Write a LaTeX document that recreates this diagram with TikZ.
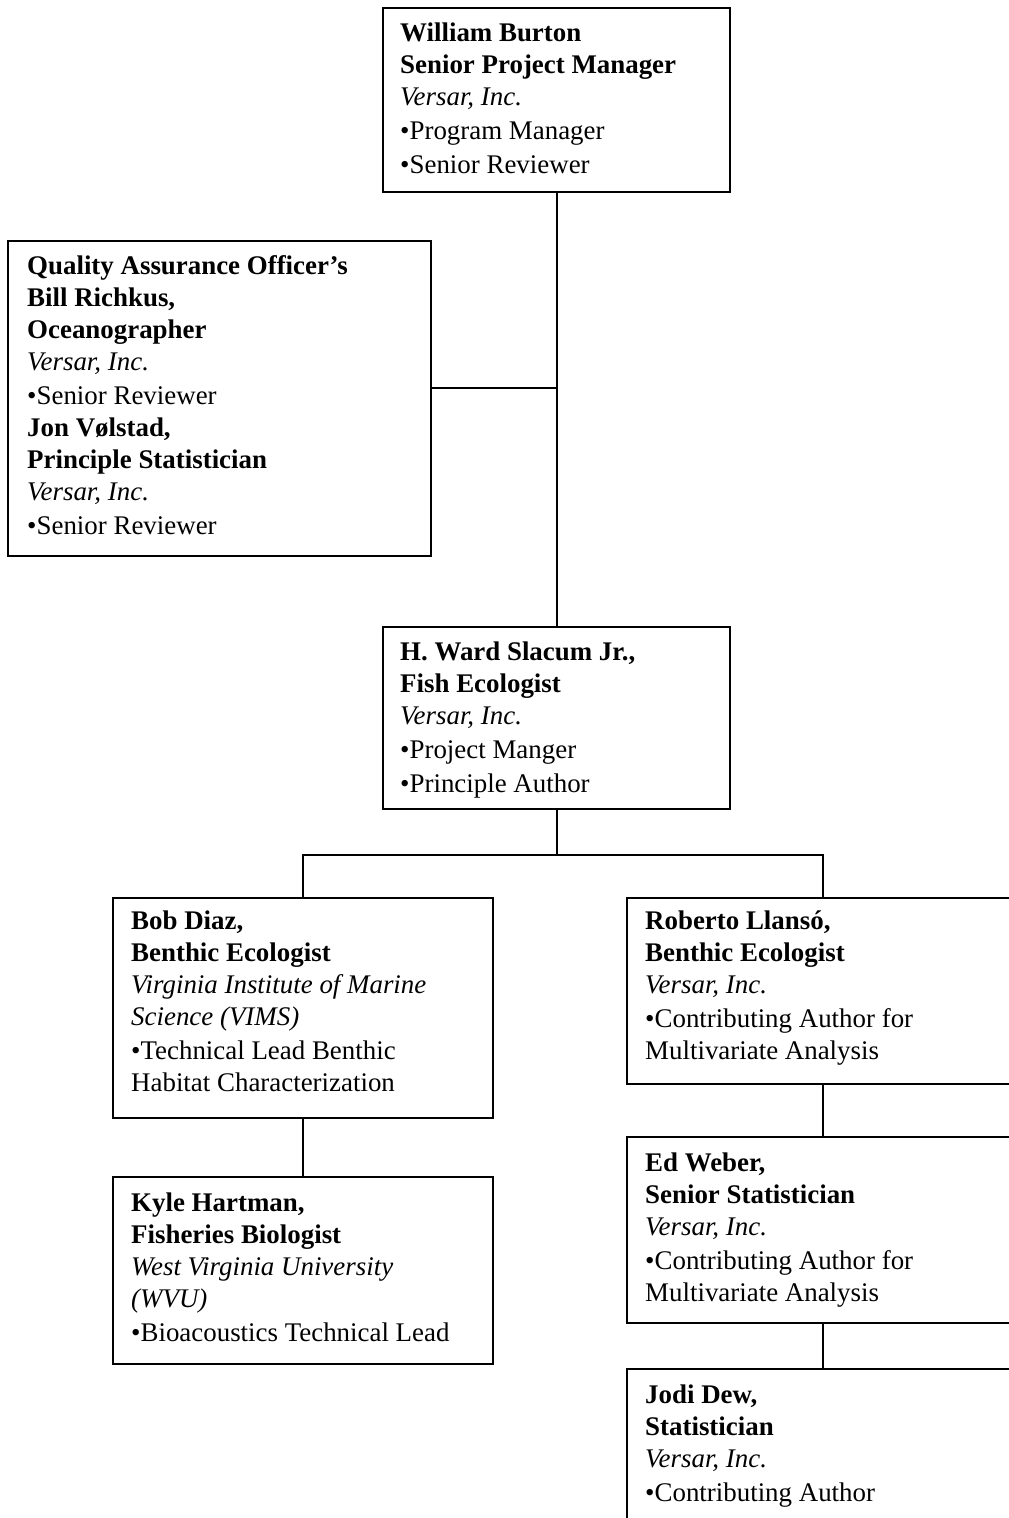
\documentclass[tikz,border=0pt]{standalone}
\usepackage{fontspec}
\setmainfont{Liberation Serif}
\tikzset{
  box/.style={draw, line width=2.2pt, rectangle, inner sep=0pt, anchor=north west},
  txt/.style={anchor=north west, inner sep=0pt, align=left, font=\fontsize{26.9}{32}\selectfont},
  link/.style={line width=2.2pt},
}
\begin{document}
\begin{tikzpicture}[x=1pt,y=-1pt]
\useasboundingbox (0,0) rectangle (1009,1518);
\clip (0,0) rectangle (1009,1518);
% boxes
\node[box, minimum width=347pt, minimum height=184pt] (burton) at (382,7) {};
\node[box, minimum width=423pt, minimum height=315pt] (qa) at (7,240) {};
\node[box, minimum width=347pt, minimum height=182pt] (slacum) at (382,626) {};
\node[box, minimum width=380pt, minimum height=220pt] (diaz) at (112,897) {};
\node[box, minimum width=380pt, minimum height=187pt] (hartman) at (112,1176) {};
\node[box, minimum width=392pt, minimum height=186pt] (llanso) at (626,897) {};
\node[box, minimum width=392pt, minimum height=186pt] (weber) at (626,1136) {};
\node[box, minimum width=392pt, minimum height=220pt] (dew) at (626,1368) {};
% texts
\node[txt] (burtont) at (400,23) {\textbf{William Burton}\\ \textbf{Senior Project Manager}\\ \textit{Versar, Inc.}\\[2pt] •Program Manager\\[2pt] •Senior Reviewer};
\node[txt] (qat) at (27,255) {\textbf{Quality Assurance Officer’s}\\ \textbf{Bill Richkus,}\\ \textbf{Oceanographer}\\ \textit{Versar, Inc.}\\[2pt] •Senior Reviewer\\ \textbf{Jon Vølstad,}\\ \textbf{Principle Statistician}\\ \textit{Versar, Inc.}\\[2pt] •Senior Reviewer};
\node[txt] (slacumt) at (400,642) {\textbf{H. Ward Slacum Jr.,}\\ \textbf{Fish Ecologist}\\ \textit{Versar, Inc.}\\[2pt] •Project Manger\\[2pt] •Principle Author};
\node[txt] (diazt) at (131,911) {\textbf{Bob Diaz,}\\ \textbf{Benthic Ecologist}\\ \textit{Virginia Institute of Marine}\\ \textit{Science (VIMS)}\\[2pt] •Technical Lead Benthic\\ Habitat Characterization};
\node[txt] (hartmant) at (131,1193) {\textbf{Kyle Hartman,}\\ \textbf{Fisheries Biologist}\\ \textit{West Virginia University}\\ \textit{(WVU)}\\[2pt] •Bioacoustics Technical Lead};
\node[txt] (llansot) at (645,911) {\textbf{Roberto Llansó,}\\ \textbf{Benthic Ecologist}\\ \textit{Versar, Inc.}\\[2pt] •Contributing Author for\\ Multivariate Analysis};
\node[txt] (webert) at (645,1153) {\textbf{Ed Weber,}\\ \textbf{Senior Statistician}\\ \textit{Versar, Inc.}\\[2pt] •Contributing Author for\\ Multivariate Analysis};
\node[txt] (dewt) at (645,1385) {\textbf{Jodi Dew,}\\ \textbf{Statistician}\\ \textit{Versar, Inc.}\\[2pt] •Contributing Author};
% connectors
\draw[link] (burton.south) -- (slacum.north);
\draw[link] ([yshift=10.5pt]qa.east) -- ([yshift=10.5pt]qa.east -| burton.south);
\coordinate (bus) at (555,855);
\draw[link] (slacum.south) -- (slacum.south |- bus);
\draw[link] (diaz.north) |- (bus) -| (llanso.north);
\draw[link] (diaz.south) -- (hartman.north);
\draw[link] (llanso.south) -- (weber.north);
\draw[link] (weber.south) -- (dew.north);
\end{tikzpicture}
\end{document}
